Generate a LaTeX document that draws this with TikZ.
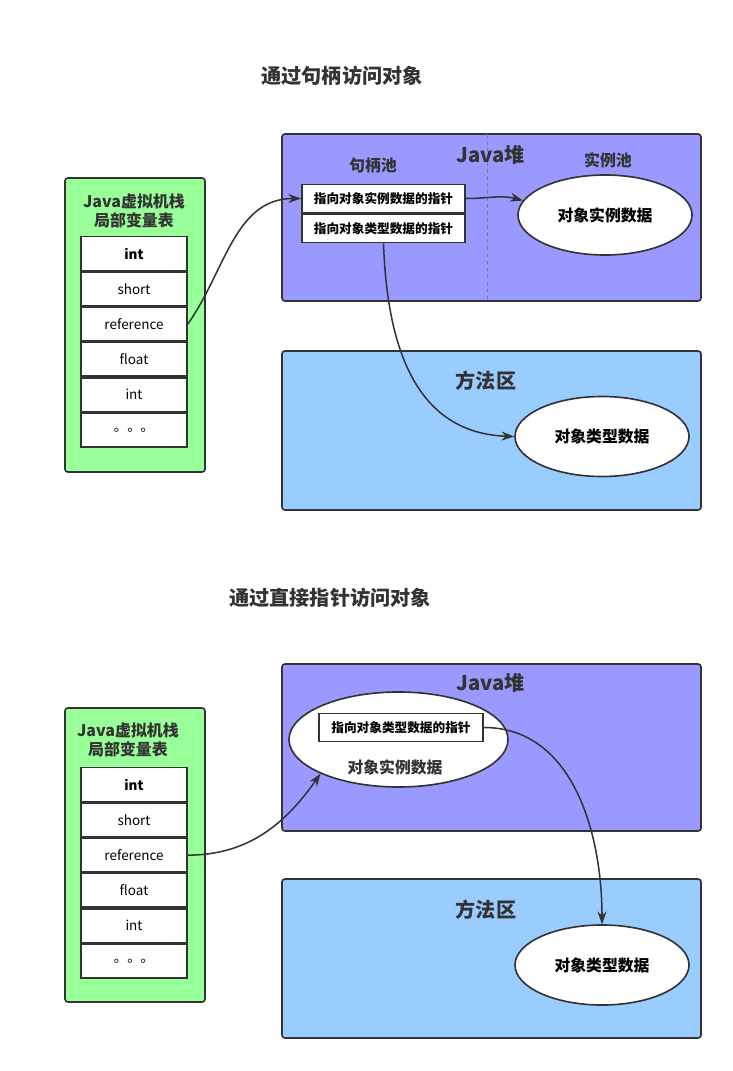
\documentclass[tikz,border=0pt]{standalone}
\usepackage{fontspec}
\setmainfont{Noto Sans CJK SC}
\usetikzlibrary{positioning,calc}
\usetikzlibrary{arrows.meta}
\usetikzlibrary{shapes.geometric}

\definecolor{stackgreen}{HTML}{99FF99}
\definecolor{heapblue}{HTML}{9999FF}
\definecolor{methodblue}{HTML}{99CCFF}
\definecolor{linegray}{HTML}{333333}

\tikzset{
  region/.style={draw=linegray, line width=1.4pt, rounded corners=2.5pt},
  cell/.style={draw=linegray, fill=white, line width=1.4pt, minimum width=3.18cm, minimum height=1.01cm, inner sep=0pt, font=\fontsize{11.5}{13}\selectfont},
  ptrbox/.style={draw=linegray, fill=white, line width=1.4pt, minimum width=4.9cm, minimum height=0.85cm, inner sep=0pt, font=\bfseries\fontsize{10.8}{12}\selectfont},
  obj/.style={ellipse, draw=linegray, fill=white, line width=1.4pt, minimum width=5.22cm, minimum height=2.4cm, inner sep=0pt, font=\bfseries\fontsize{13.5}{15}\selectfont},
  heading/.style={font=\bfseries\fontsize{17.2}{20}\selectfont, text=linegray},
  subheading/.style={font=\bfseries\fontsize{13.6}{16.5}\selectfont, text=linegray, align=center},
  link/.style={-{Stealth[length=3.8mm,width=2.7mm]}, draw=linegray, line width=1.3pt},
}

\begin{document}
\begin{tikzpicture}[x=0.03cm, y=-0.03cm]
  \useasboundingbox (0,0) rectangle (733,1071);

  % ---------- via handle ----------
  \node[heading] at (342,76) (title1) {通过句柄访问对象};

  \node[region, fill=stackgreen, minimum width=4.2cm, minimum height=8.82cm] at (135,325) (stack1) {};
  \node[subheading] at (134,211) (stack1t) {Java虚拟机栈\\局部变量表};
  \node[cell, font=\bfseries\fontsize{11.5}{13}\selectfont] at (134,253.5) (a1) {int};
  \node[cell, below=0pt of a1] (a2) {short};
  \node[cell, below=0pt of a2] (a3) {reference};
  \node[cell, below=0pt of a3] (a4) {float};
  \node[cell, below=0pt of a4] (a5) {int};
  \node[cell, below=0pt of a5] (a6) {。。。};

  \node[region, fill=heapblue, minimum width=12.57cm, minimum height=5.01cm] at (491.5,217.5) (heap1) {};
  \draw[dashed, gray] (487,134) -- (487,301);
  \node[heading] at (491,155) (heap1t) {Java堆};
  \node[subheading] at (373,165) (pool1) {句柄池};
  \node[subheading] at (608,160) (pool2) {实例池};
  \node[ptrbox] at (383.5,198.5) (hinst) {指向对象实例数据的指针};
  \node[ptrbox, below=0pt of hinst] (htype) {指向对象类型数据的指针};
  \node[obj] at (605,215) (inst1) {对象实例数据};

  \node[region, fill=methodblue, minimum width=12.57cm, minimum height=4.77cm] at (491.5,430.5) (method1) {};
  \node[heading] at (486,381) (method1t) {方法区};
  \node[obj] at (602,436.5) (type1) {对象类型数据};

  \draw[link] (a3.east) to[out=55, in=180] (hinst.west);
  \draw[link] (hinst.east) to[out=0, in=165] (inst1.170);
  \draw[link] (htype.south) to[out=-88, in=178, looseness=1.1] (type1.west);

  % ---------- via direct pointer ----------
  \node[heading] at (330,598) (title2) {通过直接指针访问对象};

  \node[region, fill=stackgreen, minimum width=4.2cm, minimum height=8.82cm] at (135,855) (stack2) {};
  \node[subheading] at (128,740) (stack2t) {Java虚拟机栈\\局部变量表};
  \node[cell, font=\bfseries\fontsize{11.5}{13}\selectfont] at (134,784.5) (b1) {int};
  \node[cell, below=0pt of b1] (b2) {short};
  \node[cell, below=0pt of b2] (b3) {reference};
  \node[cell, below=0pt of b3] (b4) {float};
  \node[cell, below=0pt of b4] (b5) {int};
  \node[cell, below=0pt of b5] (b6) {。。。};

  \node[region, fill=heapblue, minimum width=12.57cm, minimum height=5.01cm] at (491.5,747.5) (heap2) {};
  \node[heading] at (491,683) (heap2t) {Java堆};
  \node[obj, minimum width=6.57cm, minimum height=2.85cm] at (398.5,739.5) (inst2) {};
  \node[ptrbox, minimum width=4.92cm] at (401,727.5) (dtype) {指向对象类型数据的指针};
  \node[font=\bfseries\fontsize{13.5}{15}\selectfont, text=linegray] at (395,767) (inst2t) {对象实例数据};

  \node[region, fill=methodblue, minimum width=12.57cm, minimum height=4.77cm] at (491.5,958.5) (method2) {};
  \node[heading] at (486,910) (method2t) {方法区};
  \node[obj] at (602,965) (type2) {对象类型数据};

  \draw[link] (b3.east) to[out=0, in=235] (inst2.south west);
  \draw[link] (dtype.east) to[out=0, in=90] (type2.north);

\end{tikzpicture}
\end{document}
